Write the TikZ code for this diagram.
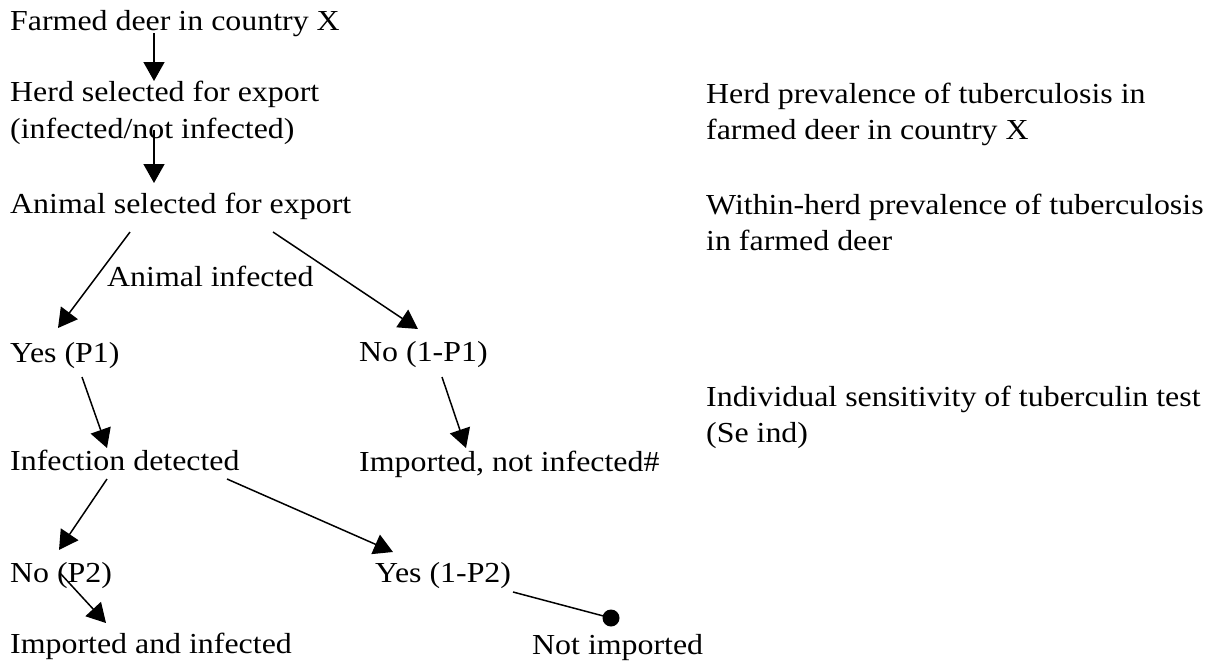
\documentclass[tikz,border=0pt]{standalone}
\usepackage{fontspec}
\setmainfont[FakeStretch=1.1]{Liberation Serif}
\usetikzlibrary{arrows.meta,calc}
\tikzset{
  lbl/.style={anchor=base west, inner sep=0pt, font=\fontsize{29}{36.5}\selectfont},
  arr/.style={line width=1.5pt, -{Triangle[length=19pt,width=21pt]}},
  lnk/.style={line width=1.5pt},
}
\newcommand{\twolines}[2]{\begin{tabular}[t]{@{}l@{}}#1\\#2\end{tabular}}
\begin{document}
\begin{tikzpicture}[x=1pt,y=-1pt]
\useasboundingbox (0,0) rectangle (1213,664);
% left / middle column
\node[lbl] (farmed) at (10,30) {Farmed deer in country X};
\node[lbl] (herd) at (10,101.5) {\twolines{Herd selected for export}{(infected/not infected)}};
\node[lbl] (animal) at (10,213) {Animal selected for export};
\node[lbl] (infl) at (107,286) {Animal infected};
\node[lbl] (yes1) at (10,362) {Yes (P1)};
\node[lbl] (no1) at (359,361) {No (1-P1)};
\node[lbl] (detect) at (10,470) {Infection detected};
\node[lbl] (impnot) at (359,471) {Imported, not infected\#};
\node[lbl] (no2) at (10,582) {No (P2)};
\node[lbl] (yes2) at (375,582) {Yes (1-P2)};
\node[lbl] (impinf) at (10,653) {Imported and infected};
\node[lbl] (notimp) at (532,654) {Not imported};
% right column
\node[lbl] (herdprev) at (706,103) {\twolines{Herd prevalence of tuberculosis in}{farmed deer in country X}};
\node[lbl] (within) at (706,214) {\twolines{Within-herd prevalence of tuberculosis}{in farmed deer}};
\node[lbl] (indiv) at (706,406) {\twolines{Individual sensitivity of tuberculin test}{(Se ind)}};
% connectors
\draw[arr] ($(farmed.base west)+(144,3)$) -- ($(herd.base west)+(144,-20.5)$);
\draw[arr] ($(herd.base west)+(144,28.5)$) -- ($(animal.base west)+(144,-30)$);
\draw[arr] ($(animal.base west)+(120,19)$) -- ($(yes1.base west)+(48,-34)$);
\draw[arr] ($(animal.base west)+(263,19)$) -- ($(no1.base west)+(59,-32)$);
\draw[arr] ($(yes1.base west)+(72,15)$) -- ($(detect.base west)+(97,-22)$);
\draw[arr] ($(no1.base west)+(83,16)$) -- ($(impnot.base west)+(107,-23)$);
\draw[arr] ($(detect.base west)+(97,9)$) -- ($(no2.base west)+(49,-32)$);
\draw[arr] ($(detect.base west)+(217,9)$) -- ($(yes2.base west)+(18,-30)$);
\draw[arr] ($(no2.base west)+(50,-9)$) -- ($(impinf.base west)+(96,-30)$);
\coordinate (dot) at ($(notimp.base west)+(79,-36)$);
\draw[lnk] ($(yes2.base west)+(138,10)$) -- (dot);
\fill (dot) circle (8.5pt);
\end{tikzpicture}
\end{document}
